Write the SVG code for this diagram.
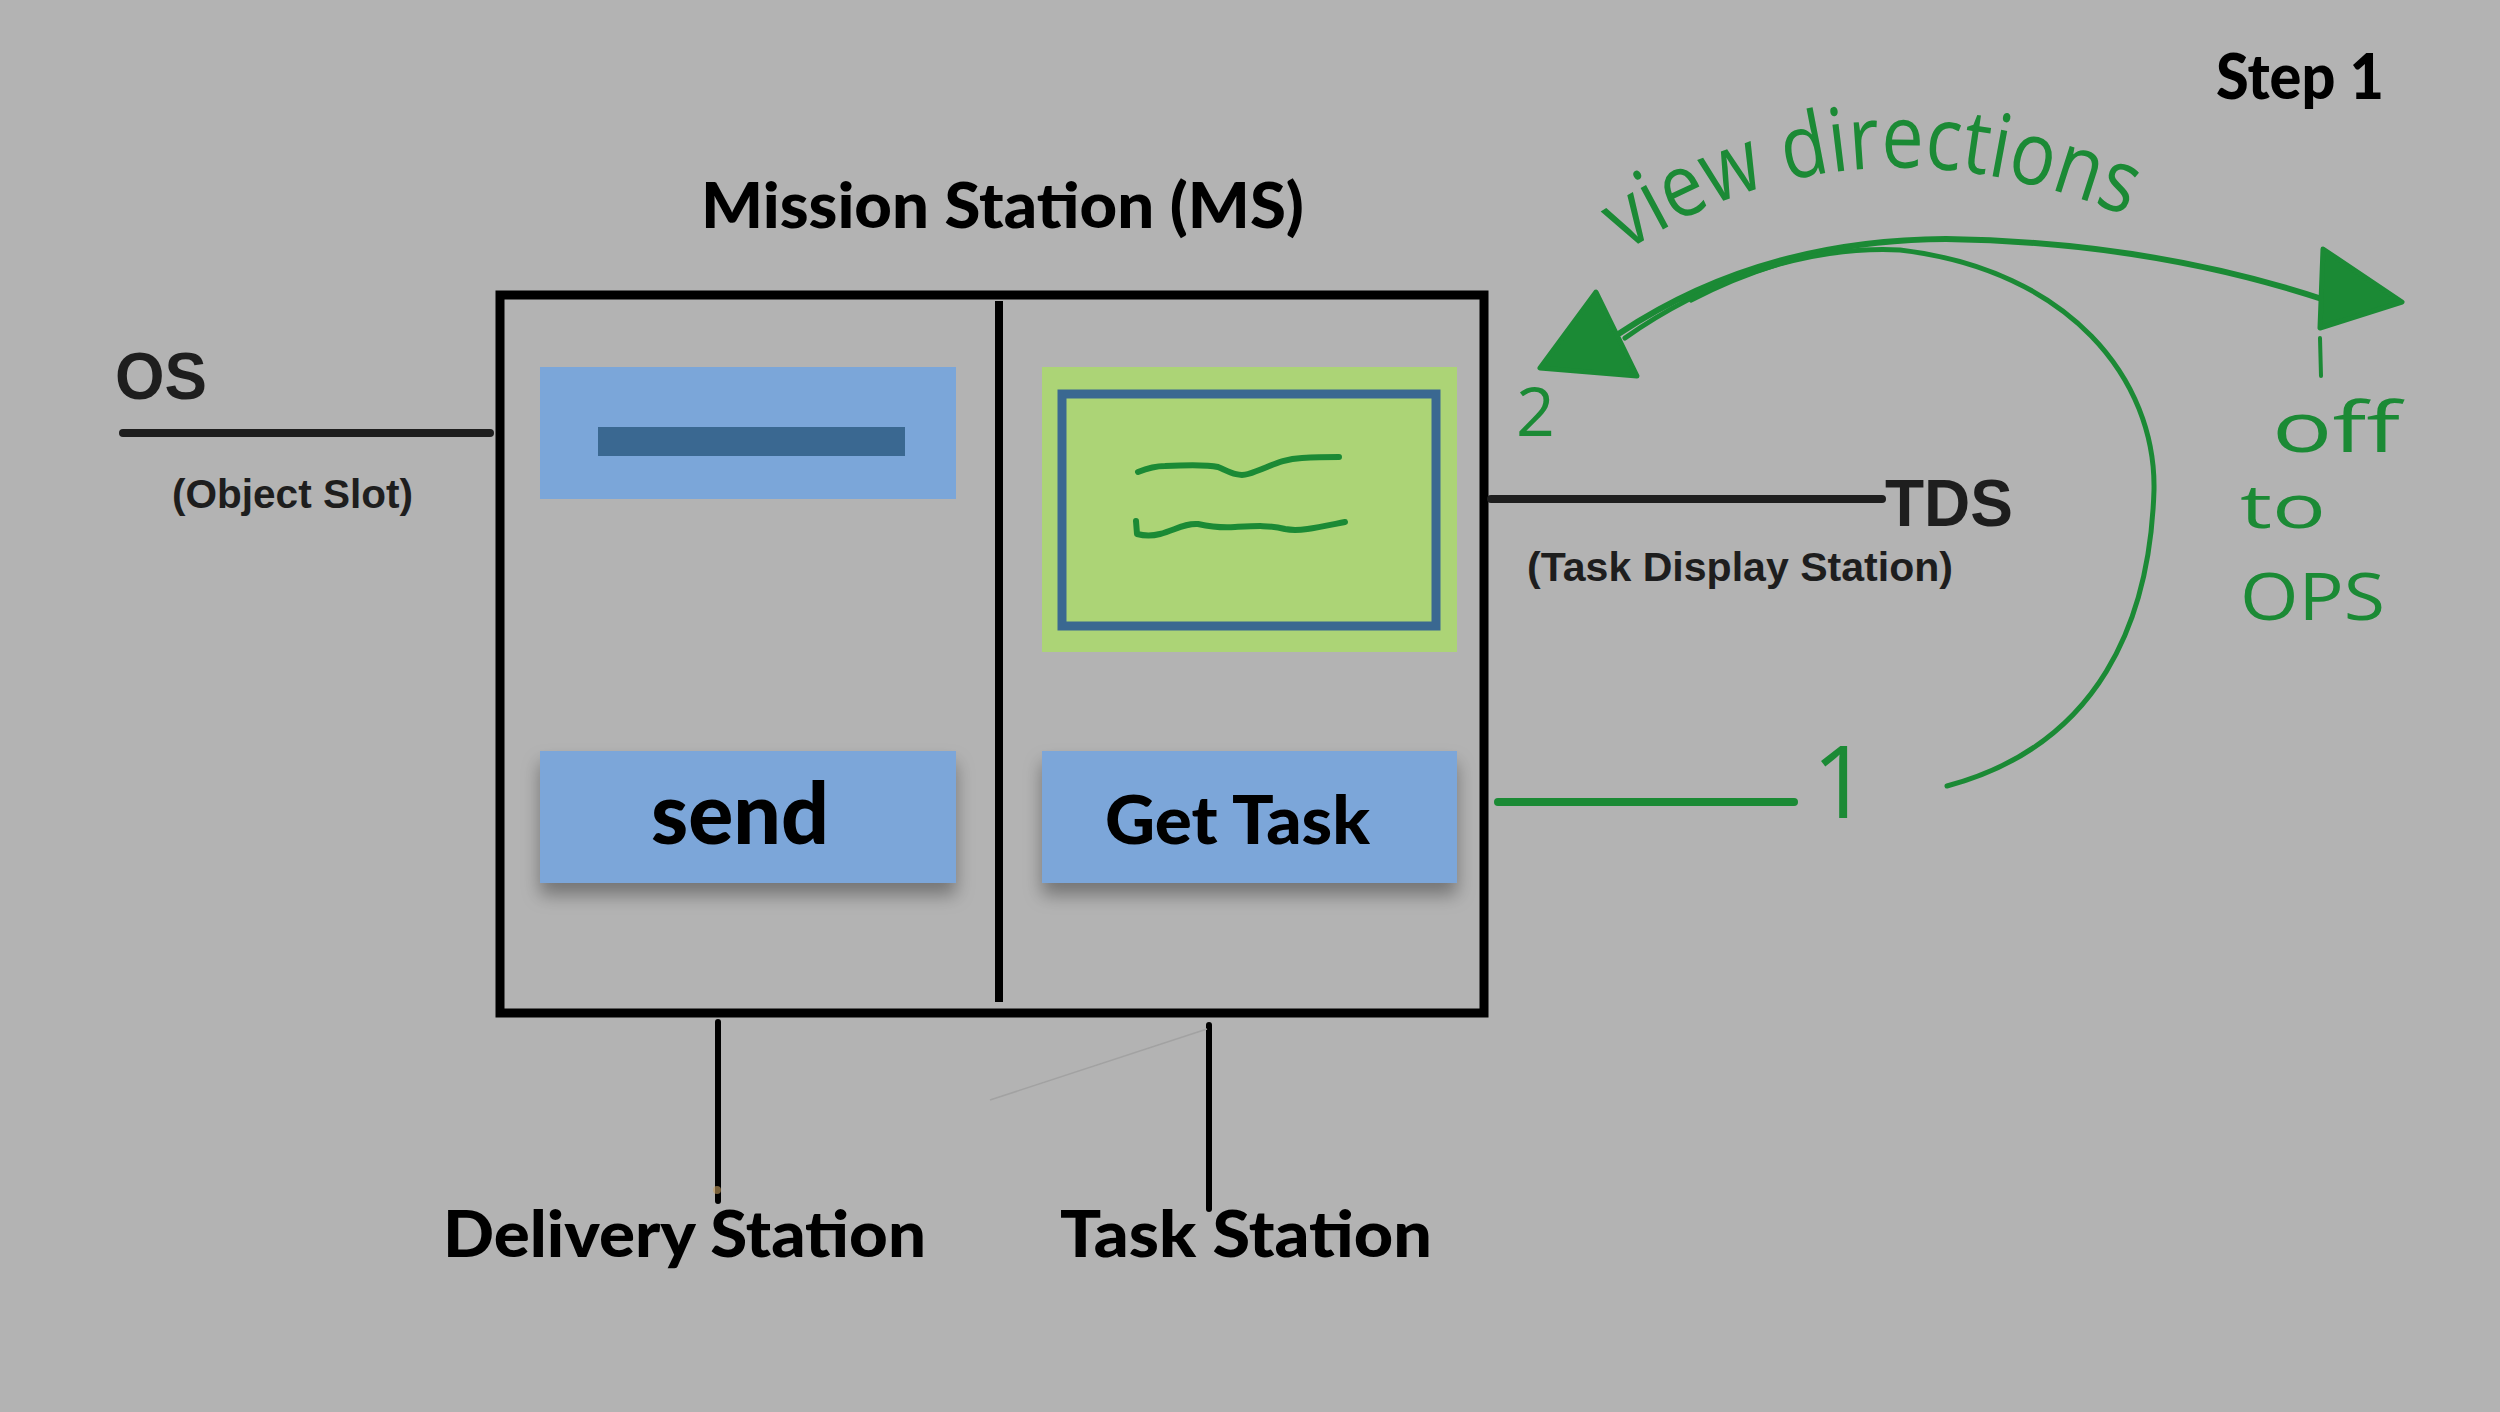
<svg xmlns="http://www.w3.org/2000/svg" width="2500" height="1412" viewBox="0 0 2500 1412">
<defs>
<style>
.hd{font-family:Lato,"Liberation Sans",sans-serif;font-weight:900;fill:#000}
.ar{font-family:"Liberation Sans",Arial,sans-serif;font-weight:bold;fill:#1e1e1e}
.gr{font-family:"Open Sans","DejaVu Sans",sans-serif;font-weight:400;fill:#1b8a35}
.blk{stroke:#1e1e1e;stroke-width:8;stroke-linecap:round;fill:none}
.gs{stroke:#1b8a35;fill:none;stroke-linecap:round;stroke-linejoin:round}
.btn{fill:#7ba6d9}
</style>
<filter id="sh" x="-20%" y="-20%" width="140%" height="160%">
<feDropShadow dx="0" dy="12" stdDeviation="9" flood-color="#000" flood-opacity="0.35"/>
</filter>
<path id="vdpath" d="M1625,252 Q1860,100 2140,222"/>
</defs>
<rect x="0" y="0" width="2500" height="1412" fill="#b3b3b3"/>

<g id="title-step"><text class="hd" x="2216" y="99" font-size="62" textLength="168" lengthAdjust="spacingAndGlyphs">Step 1</text></g>

<g id="mission-station">
<text class="hd" x="701" y="228" font-size="62" textLength="603" lengthAdjust="spacingAndGlyphs">Mission Station (MS)</text>
<rect x="500" y="295" width="984" height="718" fill="none" stroke="#000" stroke-width="9"/>
<line x1="999" y1="301" x2="999" y2="1002" stroke="#000" stroke-width="8"/>
</g>

<g id="object-slot-panel">
<rect x="540" y="367" width="416" height="132" class="btn"/>
<rect x="598" y="427" width="307" height="29" fill="#3a6891"/>
</g>

<g id="task-display-panel">
<rect x="1042" y="367" width="415" height="285" fill="#acd476"/>
<rect x="1062" y="394" width="374" height="232" fill="none" stroke="#3a6891" stroke-width="9"/>
<path class="gs" stroke-width="6" d="M1138,472 C1148,468 1155,466 1165,466 C1185,465 1205,464 1218,467 C1230,472 1238,477 1248,474 C1268,468 1280,459 1302,458 C1318,457 1330,457 1339,457"/>
<path class="gs" stroke-width="6" d="M1136,521 L1137,534 C1145,536 1152,536 1160,534 C1175,530 1185,523 1198,524 C1212,527 1222,528 1235,527 C1255,526 1270,525 1285,529 C1300,532 1320,527 1345,522"/>
</g>

<g id="send-button">
<rect x="540" y="751" width="416" height="132" class="btn" filter="url(#sh)"/>
<text class="hd" x="651" y="844" font-size="86" textLength="178" lengthAdjust="spacingAndGlyphs">send</text>
</g>

<g id="get-task-button">
<rect x="1042" y="751" width="415" height="132" class="btn" filter="url(#sh)"/>
<text class="hd" x="1105" y="844" font-size="66" textLength="265" lengthAdjust="spacingAndGlyphs">Get Task</text>
</g>

<g id="os-node">
<text class="ar" x="115" y="399" font-size="66" textLength="92" lengthAdjust="spacingAndGlyphs">OS</text>
<text class="ar" x="172" y="508" font-size="40" textLength="241" lengthAdjust="spacingAndGlyphs">(Object Slot)</text>
</g>

<g id="tds-node">
<text class="ar" x="1885" y="526" font-size="66" textLength="128" lengthAdjust="spacingAndGlyphs">TDS</text>
<text class="ar" x="1527" y="581" font-size="40" textLength="426" lengthAdjust="spacingAndGlyphs">(Task Display Station)</text>
</g>

<g id="delivery-station"><text class="hd" x="443" y="1257" font-size="64" textLength="483" lengthAdjust="spacingAndGlyphs">Delivery Station</text></g>
<g id="task-station"><text class="hd" x="1060" y="1257" font-size="64" textLength="372" lengthAdjust="spacingAndGlyphs">Task Station</text></g>

<g id="connectors">
<line class="blk" x1="123" y1="433" x2="490" y2="433"/>
<line class="blk" x1="1491" y1="499" x2="1882" y2="499"/>
<line x1="718" y1="1022" x2="718" y2="1201" stroke="#000" stroke-width="6" stroke-linecap="round"/>
<line x1="1209" y1="1025" x2="1209" y2="1209" stroke="#000" stroke-width="6" stroke-linecap="round"/>
<line x1="1207" y1="1029" x2="990" y2="1100" stroke="#a2a2a2" stroke-width="1.5"/>
<circle cx="717" cy="1190" r="4" fill="#c8a060" opacity="0.6"/>
</g>

<g id="annotations">
<line class="gs" stroke-width="8" x1="1498" y1="802" x2="1794" y2="802"/>
<path class="gs" stroke-width="6" d="M1620,333 Q1760,240 1946,239 Q2150,242 2325,300"/>
<path class="gs" stroke-width="3.5" d="M1691,301 Q1765,262 1857,246"/>
<path class="gs" stroke-width="5" d="M1947,786 C2100,745 2150,620 2154,490 C2156,380 2070,270 1900,250 C1800,245 1700,285 1625,338"/>
<polygon points="1596,292 1540,368 1637,376" fill="#1b8a35" stroke="#1b8a35" stroke-width="5" stroke-linejoin="round"/>
<polygon points="2323,249 2402,302 2320,328" fill="#1b8a35" stroke="#1b8a35" stroke-width="5" stroke-linejoin="round"/>
<line class="gs" stroke-width="4" x1="2320" y1="338" x2="2321" y2="376"/>
<text class="gr" font-size="88"><textPath href="#vdpath" textLength="525" lengthAdjust="spacingAndGlyphs">view directions</textPath></text>
<text class="gr" x="1516" y="436" font-size="68">2</text>
<text class="gr" x="1812" y="818" font-size="100">1</text>
<text class="gr" x="2272" y="452" font-size="70" textLength="128" lengthAdjust="spacingAndGlyphs">off</text>
<text class="gr" x="2240" y="528" font-size="60" textLength="86" lengthAdjust="spacingAndGlyphs">to</text>
<text class="gr" x="2240" y="620" font-size="66" textLength="145" lengthAdjust="spacingAndGlyphs">OPS</text>
</g>
</svg>
